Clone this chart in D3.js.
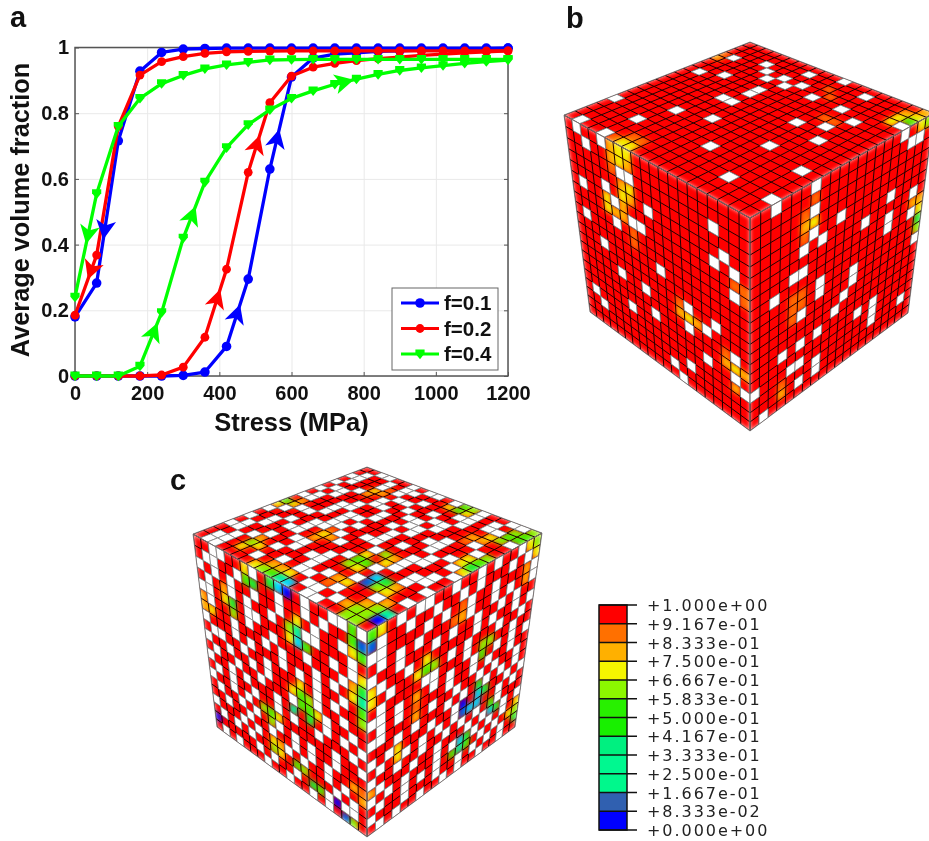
<!DOCTYPE html>
<html>
<head>
<meta charset="utf-8">
<script src="https://cdn.jsdelivr.net/npm/d3@7"></script>
<style>
html, body { margin: 0; background: #fff; }
svg { display: block; }
text { font-family: "Liberation Sans", Arial, sans-serif; font-weight: bold; fill: #111; }
.grid line { stroke: #e9e9e9; stroke-width: 1; }
.grid path { display: none; }
.tick-in line { stroke: #555; stroke-width: 1; }
.tick-in path { display: none; }
.tick-in text { font-size: 20px; }
.cb-label { font-family: "DejaVu Sans", sans-serif; font-weight: normal; font-size: 16px; letter-spacing: 1.95px; fill: #222; }
</style>
</head>
<body>
<svg id="fig" width="929" height="841"></svg>
<script>
// panel a: stress sweep, unloading branch and loading branch of each curve
const stress = [0, 60, 120, 180, 240, 300, 360, 420, 480, 540, 600, 660, 720, 780, 840, 900, 960, 1020, 1080, 1140, 1200];
const blueUp = [0, 0, 0, 0, 0, 0.002, 0.012, 0.09, 0.295, 0.63, 0.91, 0.968, 0.98, 0.984, 0.988, 0.99, 0.992, 0.994, 0.995, 0.996, 0.998];
const blueDown = [0.18, 0.283, 0.716, 0.928, 0.985, 0.995, 0.997, 0.998, 0.998, 0.998, 0.998, 0.998, 0.998, 0.998, 0.998, 0.998, 0.998, 0.998, 0.998, 0.998, 0.998];
const redUp = [0, 0, 0, 0, 0.003, 0.027, 0.118, 0.325, 0.62, 0.832, 0.913, 0.94, 0.952, 0.96, 0.966, 0.971, 0.976, 0.98, 0.984, 0.987, 0.99];
const redDown = [0.185, 0.368, 0.76, 0.916, 0.957, 0.972, 0.982, 0.987, 0.988, 0.989, 0.99, 0.99, 0.99, 0.99, 0.99, 0.99, 0.99, 0.99, 0.99, 0.99, 0.99];
const greenUp = [0, 0, 0, 0.03, 0.193, 0.42, 0.59, 0.695, 0.765, 0.81, 0.845, 0.868, 0.888, 0.904, 0.918, 0.93, 0.938, 0.945, 0.952, 0.957, 0.962];
const greenDown = [0.24, 0.555, 0.76, 0.845, 0.89, 0.915, 0.935, 0.947, 0.955, 0.962, 0.963, 0.964, 0.964, 0.964, 0.964, 0.964, 0.964, 0.964, 0.964, 0.964, 0.964];
const seriesNames = ['f=0.1', 'f=0.2', 'f=0.4'];
const seriesColors = ['#0000ff', '#ff0000', '#00ff00'];
const xTicks = [0, 200, 400, 600, 800, 1000, 1200];
const yTicks = [0, 0.2, 0.4, 0.6, 0.8, 1];
// arrowheads: series index, branch, stress at which it sits
const arrowMarks = [
  [0, 'up', 448], [0, 'up', 559], [1, 'up', 393], [1, 'up', 503],
  [2, 'up', 217], [2, 'up', 323], [2, 'up', 743],
  [0, 'down', 83], [1, 'down', 46], [2, 'down', 37]
];

// contour legend
const cbLabels = ['+1.000e+00', '+9.167e-01', '+8.333e-01', '+7.500e-01', '+6.667e-01', '+5.833e-01', '+5.000e-01', '+4.167e-01', '+3.333e-01', '+2.500e-01', '+1.667e-01', '+8.333e-02', '+0.000e+00'];
const cbColors = ['#ff0000', '#ff7000', '#ffb000', '#f5f500', '#8cf800', '#28f000', '#18f000', '#00f080', '#00f890', '#00f88c', '#3060b0', '#0000ff'];
const heatStops = [0, 0.1, 0.2, 0.3, 0.45, 0.6, 0.7, 0.8, 0.9, 1];
const heatColors = ['#0000ff', '#0060e0', '#00d8ff', '#00f5a0', '#20f000', '#8cf500', '#f5f000', '#ffb000', '#ff6a00', '#ff0000'];

// panel b: empty cells [row, col] and soft spots [row, col, tenths]
const bTopEmpty = [[3,1],[2,4],[7,1],[6,3],[3,5],[1,8],[4,6],[3,7],[0,11],[4,8],[3,9],[6,7],[7,7],[15,0],[9,6],[4,11],[1,14],[9,7],[4,14],[13,5],[16,4],[12,8],[19,1],[8,13],[5,16],[7,15],[3,19],[19,4],[9,16],[15,11],[12,14],[17,15],[13,18],[17,19]];
const bTopHot = [[4,0,8],[3,0,9],[2,11,9],[3,12,9],[6,14,9],[6,15,9],[19,6,7],[19,7,7],[18,6,9],[19,5,9],[18,7,9],[1,19,7],[2,19,5],[3,18,7],[2,18,7],[1,18,8],[0,19,8]];
const bLeftEmpty = [[0,1],[1,2],[0,4],[2,6],[2,7],[5,1],[4,4],[5,5],[4,9],[8,1],[7,5],[6,7],[6,8],[2,16],[10,3],[5,16],[4,17],[5,18],[7,18],[12,5],[9,10],[16,1],[12,8],[17,2],[15,6],[14,9],[11,13],[13,13],[12,15],[11,16],[18,11],[17,13],[15,15],[19,12],[13,18],[15,18],[16,19]];
const bLeftHot = [[0,5,8],[0,6,7],[0,7,7],[1,5,8],[1,6,7],[1,7,8],[2,5,9],[3,6,8],[3,7,7],[4,6,7],[4,7,8],[5,4,7],[5,6,8],[6,4,7],[6,5,8],[6,6,8],[8,7,9],[7,7,9],[12,13,7],[12,12,8],[12,14,8],[11,12,9],[14,18,7],[14,17,8],[14,19,8],[13,17,9],[6,18,9],[6,19,9],[7,19,9],[16,18,8]];
const bRightEmpty = [[0,6],[2,6],[4,9],[6,12],[5,15],[7,15],[6,18],[8,18],[1,17],[1,18],[0,16],[0,2],[4,6],[5,7],[5,5],[7,5],[7,4],[9,7],[10,7],[10,11],[11,11],[12,10],[8,2],[11,5],[13,9],[15,12],[15,14],[16,14],[17,14],[17,18],[14,7],[14,5],[14,3],[16,4],[16,5],[18,5],[17,7],[18,7],[8,15],[11,19],[19,1],[16,0]];
const bRightHot = [[3,6,7],[3,5,8],[4,5,9],[2,5,9],[1,6,9],[9,5,9],[10,5,9],[9,4,9],[10,4,9],[11,4,9],[18,3,8],[17,3,9],[7,18,8],[8,19,7],[9,19,4],[10,19,6],[0,18,7],[0,19,6],[7,19,8]];

// panel c: o = empty cell, . = solid; soft spots as above
const cTopCells = [
  '..oo..o.oo.o..o..ooo',
  '.o..o.oo...oo.o.o..o',
  'oo..o.o..o...oo.oo.o',
  '.o..o..oo..o..o...oo',
  'o..oo.o..o..oo..o...',
  '.oo...oo..oo.o..oo..',
  'o.o..o..o..oo..o..o.',
  '.o..oo..o.o.o.oo..o.',
  'oo..o.oo...o...o.oo.',
  '.o..o.o.o..o.o..o.o.',
  '..oo..oo..oo...oo..o',
  '.o...oo.o...oo.o..o.',
  'o..o.o..oo..o..o.oo.',
  '..o.oo.....oo.o..o.o',
  'o.o...oo..o..o..oo..',
  '.o..o..o.oo...o.o..o',
  'oo.o..o...o.o....oo.',
  '..o..o..o.oo..o..o.o',
  '.oo.o.o...o.oo.o.o..',
  '.oo....oo....oo..oo.'
];
const cLeftCells = [
  '..oo..oo.....o..oo.o',
  '.oo..oo...o..o.o...o',
  'o.o.o..o..o...o..o.o',
  '.o..o.o..o...oo...o.',
  'oo....oo...o.o..o.oo',
  '.o..o.o..o...o...o.o',
  '.o..o...o.o...o.o...',
  'o...o.o...o.o.o..o.o',
  '.oo..o..o.....o.o..o',
  'o..o..o.o.....o..o..',
  '.o..o..o...o...o..o.',
  'o..o.o...o.....o.o.o',
  '.o.o..o..o.o..o...o.',
  'o..o.o.o........o..o',
  '.o..o.o..o.o.o..o...',
  '..o..o..o..o.o.o....',
  'o...o.o...o.o..o.o..',
  '.o.o.o...o..o...o.o.',
  'o.....o.o..o.o.o.oo.',
  '.o.o...o..o..o.o.o..'
];
const cRightCells = [
  'o..o.oo..o..o.o..o..',
  '.o..o..o..o.o...o.o.',
  'oo....o.o..o..o...oo',
  '.o.o.o...o.o..o.o..o',
  'o..o...o.o..o..o.o..',
  '.o..o.o.....o.o..o.o',
  'o.o..o...o.o...o..o.',
  '.o....oo...o..o..o..',
  'oo.o...o.o..o..o.o.o',
  '.o.o.o...o..o.o..o..',
  'oo...o.o..o..o.o..o.',
  '...o.o...o.o..o.o.o.',
  'o.o....o..o..o...o.o',
  '.o..o.o.o.o.....o.o.',
  'o..o..o..o.o.o..o...',
  '.o...o..o...o.o..o.o',
  'o.o.o...o.o..o.o.o..',
  '.o..o.o.o.o...o.o...',
  'o...o...o..o.o.o.o.o',
  '.o.o..o..o.o..o..o..'
];
const cTopHot = [[10,0,5],[10,1,7],[11,0,7],[9,1,8],[3,4,7],[3,5,8],[4,4,8],[2,5,9],[0,12,5],[1,12,5],[0,13,6],[1,11,7],[1,13,7],[12,7,7],[12,8,8],[13,7,8],[11,7,9],[17,4,6],[17,5,7],[18,4,7],[16,4,8],[2,18,5],[2,19,5],[1,19,5],[3,18,6],[3,17,7],[1,18,6],[0,19,6],[4,16,8],[4,17,8],[5,16,9],[13,12,5],[14,12,6],[13,13,5],[12,12,7],[14,13,7],[11,13,6],[12,14,7],[11,14,8],[19,10,3],[19,11,2],[19,9,5],[19,8,6],[19,7,7],[18,10,7],[18,9,8],[18,8,8],[16,13,8],[16,14,7],[17,13,9],[14,15,2],[15,15,1],[14,16,4],[15,16,6],[15,17,7],[14,17,8],[7,19,5],[8,19,4],[6,19,6],[9,19,7],[7,18,7],[8,18,7],[19,18,6],[19,17,6],[18,17,6],[17,18,6],[16,18,8],[18,16,8],[17,17,8],[18,19,0],[17,19,3],[18,18,6]];
const cLeftHot = [[0,6,7],[1,6,5],[1,7,4],[4,4,4],[4,3,7],[3,3,8],[5,4,6],[3,12,3],[4,12,2],[3,11,6],[4,13,5],[4,11,7],[2,12,7],[0,11,0],[0,10,2],[0,9,4],[0,18,5],[1,18,5],[1,19,1],[2,19,5],[2,18,7],[5,19,4],[6,19,3],[7,19,5],[8,19,6],[4,19,7],[6,18,7],[5,18,8],[10,12,5],[9,12,5],[10,13,5],[11,13,4],[9,11,7],[11,11,3],[8,12,7],[9,13,6],[10,14,7],[13,7,6],[13,8,5],[14,8,6],[13,9,7],[18,0,0],[5,0,8],[6,0,8],[6,1,7],[16,8,7],[17,8,6],[17,9,7],[16,9,8],[17,11,5],[17,12,6],[18,13,4],[18,14,5],[18,16,0],[19,17,1],[19,18,6],[15,19,9],[15,18,8],[16,19,8]];
const cRightHot = [[6,6,5],[6,7,6],[5,6,7],[6,5,7],[3,9,9],[3,10,8],[2,10,9],[7,13,6],[8,13,5],[7,14,6],[12,13,2],[12,14,4],[13,13,2],[11,13,4],[12,11,0],[13,11,1],[13,12,2],[15,15,2],[14,15,5],[15,16,4],[16,11,2],[17,11,3],[16,12,4],[17,10,5],[17,12,5],[17,19,6],[18,19,4],[16,19,7],[17,18,7],[12,3,7],[13,3,7],[8,5,8],[9,5,9],[10,5,8],[5,0,7],[6,0,7],[15,0,8],[0,19,6],[1,19,7],[0,18,7],[2,18,8],[3,18,8],[0,1,7],[0,0,5],[1,0,1]];

const svg = d3.select('#fig');
const defs = svg.append('defs');
defs.append('filter').attr('id', 'soft').attr('color-interpolation-filters', 'sRGB')
  .append('feGaussianBlur').attr('stdDeviation', 2.3);
defs.append('filter').attr('id', 'soften').attr('color-interpolation-filters', 'sRGB')
  .append('feGaussianBlur').attr('stdDeviation', 0.3);

// ---- panel a
const margin = { left: 75, right: 508, top: 47.5, bottom: 376 };
const x = d3.scaleLinear().domain([0, 1200]).range([margin.left, margin.right]);
const y = d3.scaleLinear().domain([0, 1]).range([margin.bottom, margin.top]);
const plotW = margin.right - margin.left, plotH = margin.bottom - margin.top;
const chart = svg.append('g').attr('filter', 'url(#soften)');

chart.append('g').attr('class', 'grid').attr('transform', `translate(0,${margin.bottom})`)
  .call(d3.axisBottom(x).tickValues(xTicks).tickSize(-plotH).tickFormat(''));
chart.append('g').attr('class', 'grid').attr('transform', `translate(${margin.left},0)`)
  .call(d3.axisLeft(y).tickValues(yTicks).tickSize(-plotW).tickFormat(''));
chart.append('g').attr('class', 'tick-in').attr('transform', `translate(0,${margin.bottom})`)
  .call(d3.axisBottom(x).tickValues(xTicks).tickSize(-4).tickPadding(10).tickFormat(d3.format('d')));
chart.append('g').attr('class', 'tick-in').attr('transform', `translate(${margin.left},0)`)
  .call(d3.axisLeft(y).tickValues(yTicks).tickSize(-4).tickPadding(6).tickFormat(d => d));
chart.append('g').attr('class', 'tick-in').attr('transform', `translate(${margin.right},0)`)
  .call(d3.axisRight(y).tickValues(yTicks).tickSize(-4).tickFormat(''));
chart.append('rect').attr('x', margin.left).attr('y', margin.top).attr('width', plotW).attr('height', plotH)
  .attr('fill', 'none').attr('stroke', '#555').attr('stroke-width', 1.5);

const branches = [
  { up: blueUp, down: blueDown },
  { up: redUp, down: redDown },
  { up: greenUp, down: greenDown }
];
const line = d3.line().x((d, i) => x(stress[i])).y(d => y(d));
const shieldPath = 'M-4.6,-4.4 L4.6,-4.4 L4.6,-0.5 L0,5.2 L-4.6,-0.5 Z';

function drawMarker(sel, i) {
  if (i === 2) sel.append('path').attr('d', shieldPath).attr('fill', seriesColors[i]);
  else sel.append('circle').attr('r', i === 0 ? 4.8 : 4.4).attr('fill', seriesColors[i]);
}

branches.forEach((b, i) => {
  const g = chart.append('g');
  [b.down, b.up].forEach(vals => {
    g.append('path').attr('d', line(vals)).attr('fill', 'none')
      .attr('stroke', seriesColors[i]).attr('stroke-width', 3.3).attr('stroke-linejoin', 'round');
    g.selectAll(null).data(vals).enter().append('g')
      .attr('transform', (d, k) => `translate(${x(stress[k])},${y(d)})`)
      .each(function () { drawMarker(d3.select(this), i); });
  });
});

// arrowheads sit on their branch and follow its slope
chart.selectAll('.arrow').data(arrowMarks).enter().append('path')
  .attr('class', 'arrow')
  .attr('d', 'M11,0 L-8,-10 L-3,0 L-8,10 Z')
  .attr('fill', d => seriesColors[d[0]])
  .attr('transform', d => {
    const vals = branches[d[0]][d[1]];
    const k = Math.min(stress.length - 2, d3.bisectRight(stress, d[2]) - 1);
    const t = (d[2] - stress[k]) / (stress[k + 1] - stress[k]);
    const v = vals[k] + (vals[k + 1] - vals[k]) * t;
    let ang = Math.atan2(y(vals[k + 1]) - y(vals[k]), x(stress[k + 1]) - x(stress[k])) * 180 / Math.PI;
    if (d[1] === 'down') ang += 180;
    return `translate(${x(d[2])},${y(v)}) rotate(${ang})`;
  });

chart.append('text').attr('x', 291.5).attr('y', 431).attr('text-anchor', 'middle').style('font-size', '25.5px').text('Stress (MPa)');
chart.append('text').attr('transform', 'translate(29,210) rotate(-90)').attr('text-anchor', 'middle').style('font-size', '25.3px').text('Average volume fraction');

// legend
const legend = chart.append('g');
legend.append('rect').attr('x', 392).attr('y', 288).attr('width', 106).attr('height', 82)
  .attr('fill', '#fff').attr('stroke', '#666').attr('stroke-width', 1);
seriesNames.forEach((name, i) => {
  const ly = 303 + i * 25.5;
  legend.append('line').attr('x1', 401).attr('x2', 439).attr('y1', ly).attr('y2', ly)
    .attr('stroke', seriesColors[i]).attr('stroke-width', 3);
  drawMarker(legend.append('g').attr('transform', `translate(420,${ly})`), i);
  legend.append('text').attr('x', 444).attr('y', ly + 7).style('font-size', '20.5px').text(name);
});

// panel letters
[['a', 10, 27], ['b', 566, 28], ['c', 170, 490]].forEach(p => {
  svg.append('text').attr('x', p[1]).attr('y', p[2]).style('font-size', '29px').text(p[0]);
});

// ---- cubes
const heat = d3.scaleLinear().domain(heatStops).range(heatColors);
const N = 20;
const unit = d3.scaleLinear().domain([0, N]).range([0, 1]);

// square to quad mapping for perspective faces
function quadMap(q) {
  const [p0, p1, p2, p3] = q;
  const sx = p0[0] - p1[0] + p2[0] - p3[0], sy = p0[1] - p1[1] + p2[1] - p3[1];
  const dx1 = p1[0] - p2[0], dx2 = p3[0] - p2[0], dy1 = p1[1] - p2[1], dy2 = p3[1] - p2[1];
  const det = dx1 * dy2 - dx2 * dy1;
  const g = (sx * dy2 - dx2 * sy) / det, h = (dx1 * sy - sx * dy1) / det;
  return (u, v) => {
    const w = 1 + g * u + h * v;
    return [
      (p0[0] + (p1[0] - p0[0] + g * p1[0]) * u + (p3[0] - p0[0] + h * p3[0]) * v) / w,
      (p0[1] + (p1[1] - p0[1] + g * p1[1]) * u + (p3[1] - p0[1] + h * p3[1]) * v) / w
    ];
  };
}

let clipId = 0;
function drawFace(parent, quad, empty, hot) {
  const map = quadMap(quad);
  const cellPts = d => [[d[1], d[0]], [d[1] + 1, d[0]], [d[1] + 1, d[0] + 1], [d[1], d[0] + 1]]
    .map(p => map(unit(p[0]), unit(p[1])).join(',')).join(' ');
  const hotSet = new Set(hot.map(d => d[0] + '_' + d[1]));
  const voids = empty.filter(d => !hotSet.has(d[0] + '_' + d[1]));
  const id = 'face' + (clipId++);
  const pts = quad.map(p => p.join(',')).join(' ');
  defs.append('clipPath').attr('id', id).append('polygon').attr('points', pts);

  const g = parent.append('g').attr('clip-path', `url(#${id})`);
  const soft = g.append('g').attr('filter', 'url(#soft)');
  soft.append('polygon').attr('points', pts).attr('fill', '#ff0000');
  soft.selectAll('polygon.hot').data(hot).enter().append('polygon').attr('class', 'hot')
    .attr('points', cellPts).attr('fill', d => heat(d[2] / 10));

  const lines = d3.range(N + 1);
  g.selectAll('line.u').data(lines).enter().append('line').attr('class', 'u')
    .attr('x1', d => map(unit(d), 0)[0]).attr('y1', d => map(unit(d), 0)[1])
    .attr('x2', d => map(unit(d), 1)[0]).attr('y2', d => map(unit(d), 1)[1])
    .attr('stroke', '#200').attr('stroke-width', 1);
  g.selectAll('line.v').data(lines).enter().append('line').attr('class', 'v')
    .attr('x1', d => map(0, unit(d))[0]).attr('y1', d => map(0, unit(d))[1])
    .attr('x2', d => map(1, unit(d))[0]).attr('y2', d => map(1, unit(d))[1])
    .attr('stroke', '#200').attr('stroke-width', 1);
  g.selectAll('polygon.void').data(voids).enter().append('polygon').attr('class', 'void')
    .attr('points', cellPts).attr('fill', '#fff').attr('stroke', '#8c8c8c').attr('stroke-width', 0.9);

  parent.append('polygon').attr('points', pts).attr('fill', 'none').attr('stroke', '#777').attr('stroke-width', 0.8);
}

function cellsFromRows(rows) {
  const out = [];
  rows.forEach((row, r) => row.split('').forEach((ch, c) => { if (ch === 'o') out.push([r, c]); }));
  return out;
}

// cube b
const cubeB = svg.append('g').attr('filter', 'url(#soften)');
const bT = [750, 42], bL = [564, 115], bR = [934, 113], bC = [750, 218], bB = [750, 431], bLB = [590, 312], bRB = [908, 313];
drawFace(cubeB, [bT, bR, bC, bL], bTopEmpty, bTopHot);
drawFace(cubeB, [bL, bC, bB, bLB], bLeftEmpty, bLeftHot);
drawFace(cubeB, [bC, bR, bRB, bB], bRightEmpty, bRightHot);

// cube c
const cubeC = svg.append('g').attr('filter', 'url(#soften)');
const cT = [367, 467], cL = [193, 534], cR = [542, 533], cC = [367, 632], cB = [367, 837], cLB = [217, 727], cRB = [515, 727];
drawFace(cubeC, [cT, cR, cC, cL], cellsFromRows(cTopCells), cTopHot);
drawFace(cubeC, [cL, cC, cB, cLB], cellsFromRows(cLeftCells), cLeftHot);
drawFace(cubeC, [cC, cR, cRB, cB], cellsFromRows(cRightCells), cRightHot);

// ---- contour legend
const cb = svg.append('g').attr('filter', 'url(#soften)');
const cbY = d3.scaleLinear().domain([0, cbColors.length]).range([605, 830]);
cb.selectAll('rect.band').data(cbColors).enter().append('rect').attr('class', 'band')
  .attr('x', 599).attr('width', 28)
  .attr('y', (d, i) => cbY(i)).attr('height', (d, i) => cbY(i + 1) - cbY(i))
  .attr('fill', d => d);
cb.append('rect').attr('x', 599).attr('y', 605).attr('width', 28).attr('height', 225)
  .attr('fill', 'none').attr('stroke', '#111').attr('stroke-width', 1.5);
cb.selectAll('line').data(cbLabels).enter().append('line')
  .attr('x1', 599).attr('x2', 637)
  .attr('y1', (d, i) => cbY(i)).attr('y2', (d, i) => cbY(i))
  .attr('stroke', '#111').attr('stroke-width', 1.4);
cb.selectAll('text').data(cbLabels).enter().append('text').attr('class', 'cb-label')
  .attr('x', 647).attr('y', (d, i) => cbY(i) + 6).text(d => d);
</script>
</body>
</html>
